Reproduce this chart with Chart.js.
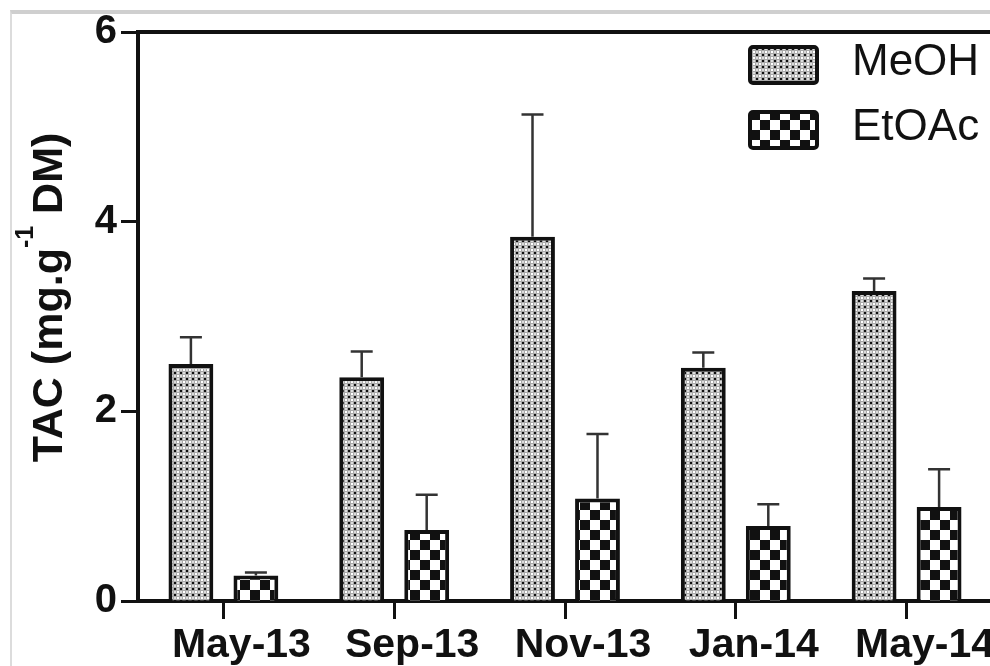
<!DOCTYPE html>
<html><head><meta charset="utf-8">
<script src="https://cdn.jsdelivr.net/npm/chart.js@4.4.1/dist/chart.umd.min.js"></script>
<style>
html,body{margin:0;padding:0;background:#fff;overflow:hidden;}
#wrap{position:relative;width:990px;height:666px;overflow:hidden;background:#fff;}
#frame{position:absolute;left:10px;top:10px;width:990px;height:670px;border-top:4px solid #cfcfcf;border-left:2px solid #dcdcdc;pointer-events:none;}
canvas{position:absolute;left:0;top:0;}
</style></head><body>
<div id="wrap"><canvas id="c" width="1010" height="666"></canvas><div id="frame"></div></div>
<script>
// Sampling dates and total anthocyanin content per extract (mean and SD)
const categories = ['May-13', 'Sep-13', 'Nov-13', 'Jan-14', 'May-14'];
const meohMean  = [2.50, 2.36, 3.84, 2.46, 3.27];
const meohSD    = [0.28, 0.27, 1.29, 0.16, 0.13];
const etoacMean = [0.27, 0.75, 1.08, 0.79, 0.99];
const etoacSD   = [0.03, 0.37, 0.68, 0.23, 0.40];
const seriesNames = ['MeOH', 'EtOAc'];
const yTicks = [0, 2, 4, 6];

const FONT = '"Liberation Sans", Arial, sans-serif';
const INK = '#111';

const canvas = document.getElementById('c');
const ctx = canvas.getContext('2d');

// fine dotted fill for the methanol extract
function dotPattern() {
  const t = document.createElement('canvas');
  t.width = 6; t.height = 6;
  const g = t.getContext('2d');
  g.fillStyle = '#a9a9a9'; g.fillRect(0, 0, 6, 6);
  g.fillStyle = '#111'; g.fillRect(0, 0, 2, 2);
  g.fillStyle = '#fff'; g.fillRect(3, 3, 2, 2);
  g.fillStyle = '#dcdcdc'; g.fillRect(3, 0, 2, 2); g.fillRect(0, 3, 2, 2);
  return ctx.createPattern(t, 'repeat');
}
// coarse checkerboard fill for the ethyl acetate extract
function checkPattern() {
  const t = document.createElement('canvas');
  t.width = 20; t.height = 20;
  const g = t.getContext('2d');
  g.fillStyle = '#fff'; g.fillRect(0, 0, 20, 20);
  g.fillStyle = '#111'; g.fillRect(0, 0, 10, 10); g.fillRect(10, 10, 10, 10);
  return ctx.createPattern(t, 'repeat');
}
const fills = [dotPattern(), checkPattern()];
const sds = [meohSD, etoacSD];

// upper error whiskers with caps
const errorBars = {
  id: 'errorBars',
  afterDatasetsDraw(chart) {
    const c = chart.ctx, y = chart.scales.y;
    chart.data.datasets.forEach((ds, i) => {
      chart.getDatasetMeta(i).data.forEach((bar, j) => {
        const top = y.getPixelForValue(ds.data[j] + sds[i][j]);
        c.save();
        c.strokeStyle = '#333';
        c.lineWidth = 2.5;
        c.beginPath();
        c.moveTo(bar.x, bar.y);
        c.lineTo(bar.x, top);
        c.moveTo(bar.x - 11, top);
        c.lineTo(bar.x + 11, top);
        c.stroke();
        c.restore();
      });
    });
  }
};

// top frame line, rotated y title with superscript, and legend
const decorations = {
  id: 'decorations',
  afterDraw(chart) {
    const c = chart.ctx, a = chart.chartArea;
    c.save();
    c.strokeStyle = INK;
    c.lineWidth = 4;
    c.beginPath();
    c.moveTo(a.left, a.top);
    c.lineTo(chart.width, a.top);
    c.stroke();

    // y-axis title
    const cy = (a.top + a.bottom) / 2 - 19;
    c.translate(62, cy);
    c.rotate(-Math.PI / 2);
    c.fillStyle = INK;
    c.textBaseline = 'alphabetic';
    const big = 'bold 43px ' + FONT, small = 'bold 25px ' + FONT;
    const p1 = 'TAC (mg.g', p2 = '-1', p3 = ' DM)';
    c.font = big; const w1 = c.measureText(p1).width, w3 = c.measureText(p3).width;
    c.font = small; const w2 = c.measureText(p2).width;
    let x = -(w1 + w2 + w3) / 2;
    c.font = big; c.fillText(p1, x, 0); x += w1;
    c.font = small; c.fillText(p2, x, -29); x += w2;
    c.font = big; c.fillText(p3, x, 0);
    c.restore();

    // legend
    c.save();
    const sx = a.right - 242;
    [a.top + 33, a.top + 98].forEach((yc, i) => {
      c.beginPath();
      c.roundRect(sx, yc - 18, 67, 36, 3);
      c.fillStyle = fills[i];
      c.fill();
      c.lineWidth = 4;
      c.strokeStyle = INK;
      c.stroke();
      c.fillStyle = INK;
      c.font = '44px ' + FONT;
      c.textBaseline = 'middle';
      c.textAlign = 'left';
      c.fillText(seriesNames[i], sx + 102, yc - 2);
    });
    c.restore();
  }
};

new Chart(canvas, {
  type: 'bar',
  data: {
    labels: categories,
    datasets: [
      { label: seriesNames[0], data: meohMean, backgroundColor: fills[0], borderColor: INK, borderWidth: 4 },
      { label: seriesNames[1], data: etoacMean, backgroundColor: fills[1], borderColor: INK, borderWidth: 4 }
    ]
  },
  options: {
    responsive: false,
    animation: false,
    devicePixelRatio: 1,
    categoryPercentage: 0.761,
    barPercentage: 0.69,
    layout: { padding: { top: 32, right: 18, left: 0, bottom: 0 } },
    plugins: { legend: { display: false }, tooltip: { enabled: false } },
    scales: {
      x: {
        afterFit(s) { s.height = 65; },
        grid: { offset: false, drawOnChartArea: false, drawTicks: true, tickLength: 18, tickWidth: 3, tickColor: INK },
        border: { display: true, width: 4, color: INK },
        ticks: { color: INK, font: { family: FONT, size: 41, weight: 'bold' }, padding: 2, labelOffset: 18, maxRotation: 0, autoSkip: false }
      },
      y: {
        min: 0, max: 6,
        afterFit(s) { s.width = 138; },
        afterBuildTicks(s) { s.ticks = yTicks.map(v => ({ value: v })); },
        grid: { drawOnChartArea: false, drawTicks: true, tickLength: 17, tickWidth: 3, tickColor: INK },
        border: { display: true, width: 4, color: INK },
        ticks: { color: INK, font: { family: FONT, size: 40, weight: 'bold' }, padding: 4 }
      }
    }
  },
  plugins: [errorBars, decorations]
});
</script>
</body></html>
